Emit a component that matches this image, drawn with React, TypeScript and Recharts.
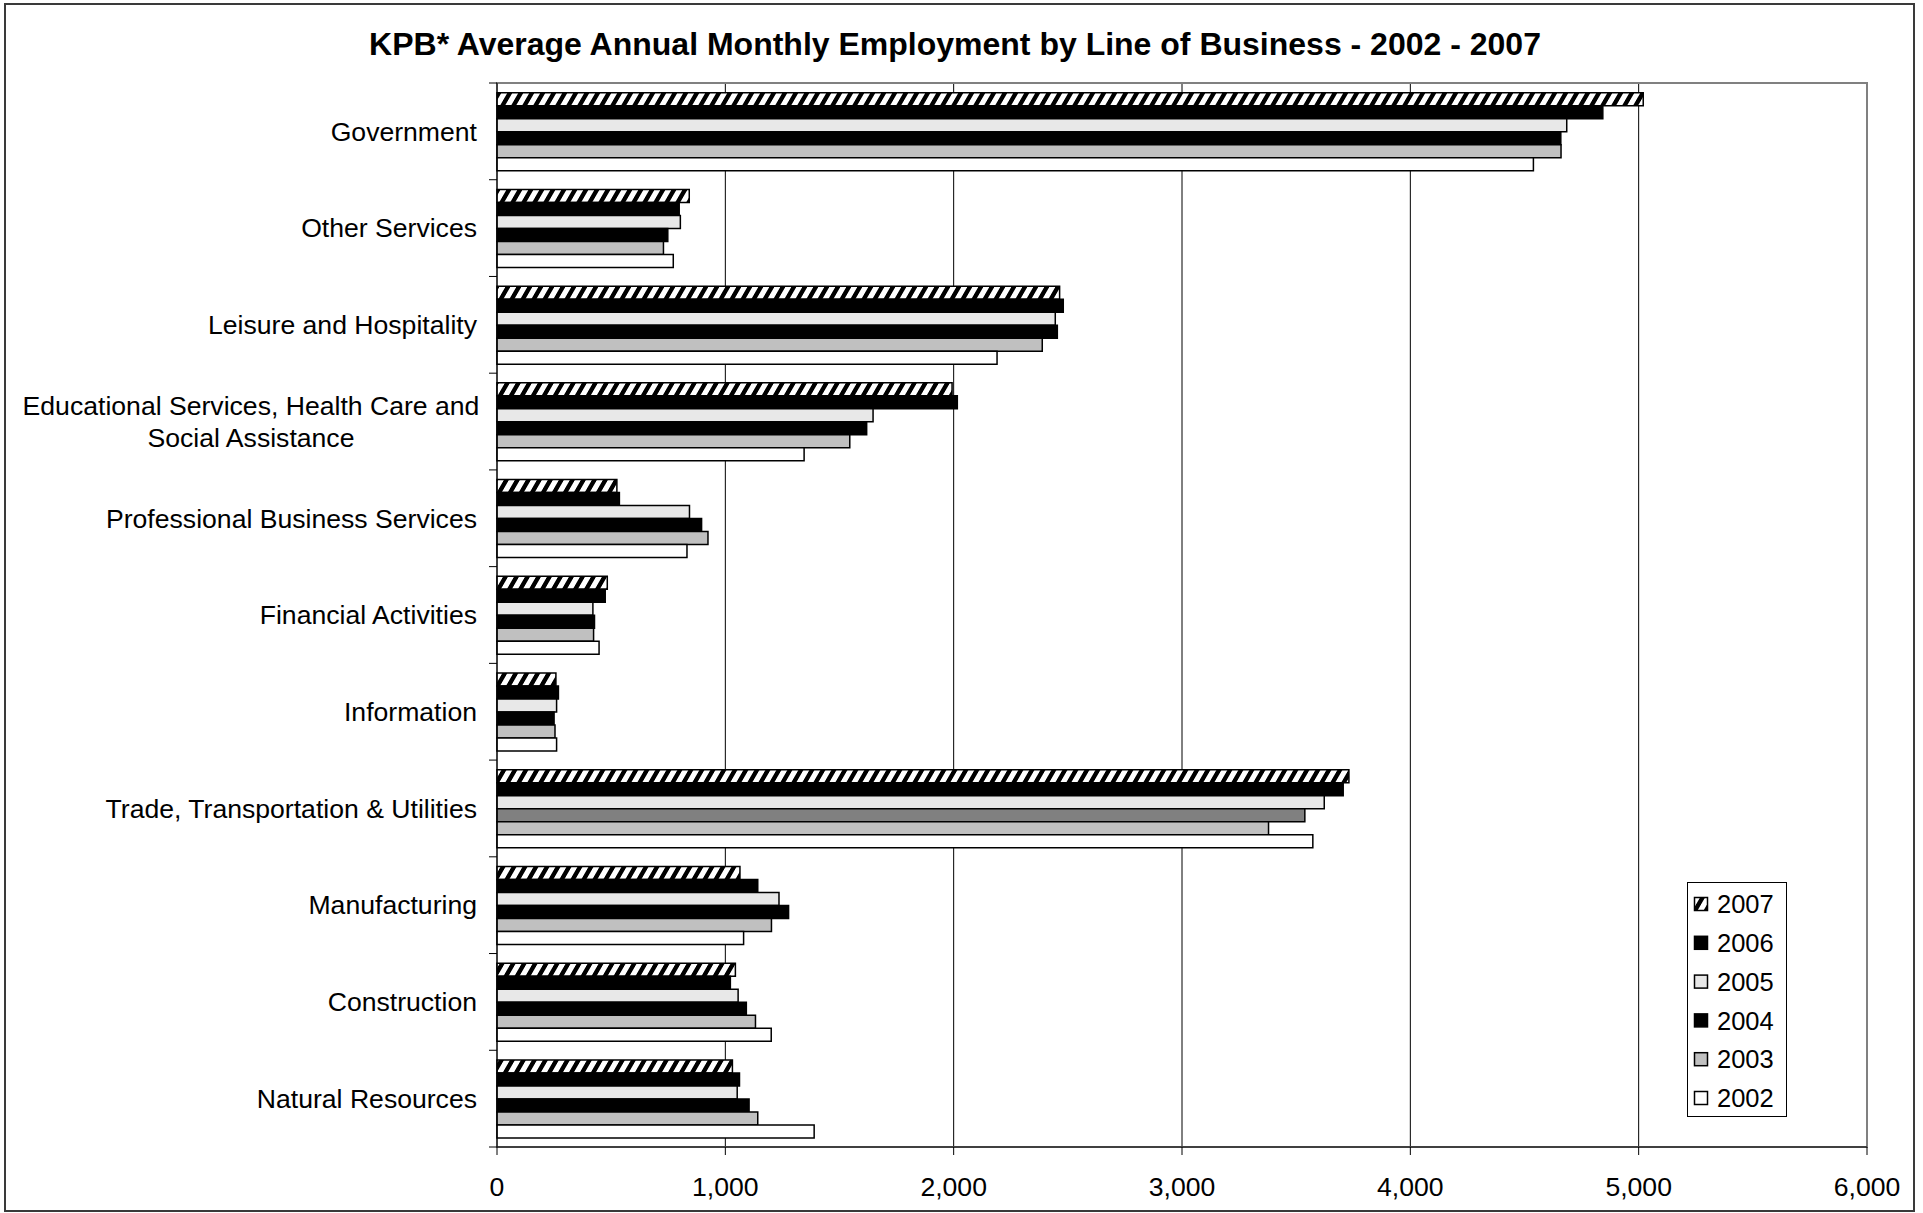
import React from 'react'
import { BarChart, Bar, XAxis, YAxis, CartesianGrid, Legend, Cell, ReferenceArea } from 'recharts'

// ────────────────────────────────────────────────────────────────────────────
// Data — KPB employment by line of business
// ────────────────────────────────────────────────────────────────────────────

const categories = [
  'Government',
  'Other Services',
  'Leisure and Hospitality',
  'Educational Services, Health Care and\nSocial Assistance',
  'Professional Business Services',
  'Financial Activities',
  'Information',
  'Trade, Transportation & Utilities',
  'Manufacturing',
  'Construction',
  'Natural Resources',
]

const years = ['2007', '2006', '2005', '2004', '2003', '2002']

const v2007 = [5020, 842, 2464, 1993, 525, 483, 258, 3731, 1064, 1044, 1031]
const v2006 = [4843, 798, 2480, 2016, 536, 474, 269, 3706, 1142, 1022, 1062]
const v2005 = [4685, 803, 2445, 1647, 843, 420, 261, 3623, 1235, 1056, 1052]
const v2004 = [4659, 748, 2454, 1619, 896, 427, 250, 3538, 1277, 1092, 1104]
const v2003 = [4660, 729, 2388, 1545, 924, 423, 254, 3379, 1202, 1132, 1142]
const v2002 = [4539, 772, 2190, 1345, 832, 447, 261, 3573, 1080, 1201, 1389]

const xTicks = [0, 1000, 2000, 3000, 4000, 5000, 6000]

const data = categories.map((name, i) => ({
  name,
  '2007': v2007[i],
  '2006': v2006[i],
  '2005': v2005[i],
  '2004': v2004[i],
  '2003': v2003[i],
  '2002': v2002[i],
}))

// ────────────────────────────────────────────────────────────────────────────
// Layout
// ────────────────────────────────────────────────────────────────────────────

const W = 1923
const H = 1213
const FONT = '"Liberation Sans", Arial, Helvetica, sans-serif'
const LABEL_SIZE = 26.6
const PLOT_TOP = 83
const PLOT_LEFT = 497
const PLOT_BOTTOM = 1147
const BAND = (PLOT_BOTTOM - PLOT_TOP) / categories.length

const fills: Record<string, string> = {
  '2007': 'url(#hatch)',
  '2006': '#000000',
  '2005': '#e8e8e8',
  '2004': '#000000',
  '2003': '#c0c0c0',
  '2002': '#ffffff',
}

function Hatch({ id }: { id: string }) {
  return (
    <pattern id={id} patternUnits="userSpaceOnUse" width={11} height={11} patternTransform="skewX(-30)">
      <rect width={11} height={11} fill="#fff" />
      <rect width={5} height={11} fill="#000" />
    </pattern>
  )
}

// category label, right aligned; two-line labels are centred as one block
function CategoryTick(props: any) {
  const { x, y, payload, index } = props
  const lines = String(payload.value).split('\n')
  const tickY = y - BAND / 2
  return (
    <g>
      <line x1={PLOT_LEFT - 8} x2={PLOT_LEFT} y1={tickY} y2={tickY} stroke="#000" />
      {index === categories.length - 1 && (
        <line x1={PLOT_LEFT - 8} x2={PLOT_LEFT} y1={y + BAND / 2} y2={y + BAND / 2} stroke="#000" />
      )}
      {lines.length === 1 ? (
        <text x={x} y={y} dy="0.35em" textAnchor="end" fontSize={LABEL_SIZE} fontFamily={FONT} fill="#000">
          {lines[0]}
        </text>
      ) : (
        lines.map((l, i) => (
          <text
            key={i}
            x={x - 226}
            y={y + (i - (lines.length - 1) / 2) * 32}
            dy="0.35em"
            textAnchor="middle"
            fontSize={LABEL_SIZE}
            fontFamily={FONT}
            fill="#000"
          >
            {l}
          </text>
        ))
      )}
    </g>
  )
}

function LegendBox({ payload }: any) {
  const items = [...(payload ?? [])].sort(
    (a: any, b: any) => years.indexOf(String(a.value)) - years.indexOf(String(b.value)),
  )
  return (
    <svg width={100} height={235} style={{ display: 'block' }}>
      <defs>
        <Hatch id="hatchLegend" />
      </defs>
      <rect x={0.5} y={0.5} width={99} height={234} fill="#fff" stroke="#000" />
      {items.map((p: any, i: number) => {
        const cy = 22 + i * 38.8
        const fill = p.value === '2007' ? 'url(#hatchLegend)' : fills[p.value] ?? p.color
        return (
          <g key={p.value}>
            <rect x={7.5} y={cy - 6.5} width={13} height={13} fill={fill} stroke="#000" strokeWidth={1.5} />
            <text x={30} y={cy} dy="0.36em" fontSize={25.5} fontFamily={FONT} fill="#000">
              {p.value}
            </text>
          </g>
        )
      })}
    </svg>
  )
}

export default function App() {
  return (
    <div style={{ position: 'absolute', left: 0, top: 0, width: W, height: H, background: '#fff', fontFamily: FONT }}>
      <BarChart
        width={W}
        height={H}
        data={data}
        layout="vertical"
        barCategoryGap="10%"
        barGap={0}
        margin={{ top: PLOT_TOP, right: 56, bottom: 26, left: 0 }}
      >
        <defs>
          <Hatch id="hatch" />
        </defs>
        <CartesianGrid horizontal={false} stroke="#000" strokeWidth={1} />
        <ReferenceArea x1={0} x2={6000} fill="none" stroke="#808080" strokeWidth={2} />
        <XAxis
          type="number"
          domain={[0, 6000]}
          ticks={xTicks}
          interval={0}
          height={40}
          tickSize={8}
          tickMargin={22}
          tickFormatter={(v: number) => v.toLocaleString('en-US')}
          tick={{ fontSize: LABEL_SIZE, fill: '#000', fontFamily: FONT }}
          stroke="#000"
        />
        <YAxis
          type="category"
          dataKey="name"
          width={PLOT_LEFT}
          interval={0}
          tickLine={false}
          tickSize={8}
          tickMargin={12}
          tick={<CategoryTick />}
          stroke="#000"
        />
        <Legend
          layout="horizontal"
          verticalAlign="middle"
          align="center"
          content={<LegendBox />}
          wrapperStyle={{ left: 1687, top: 882, width: 100, height: 235 }}
        />
        {years.map((yr) => (
          <Bar
            key={yr}
            dataKey={yr}
            name={yr}
            fill={fills[yr]}
            stroke="#000"
            strokeWidth={1.5}
            isAnimationActive={false}
          >
            {yr === '2004' &&
              data.map((d, i) => (
                <Cell key={i} fill={d.name.startsWith('Trade') ? '#808080' : '#000000'} />
              ))}
          </Bar>
        ))}
      </BarChart>
      <div
        style={{
          position: 'absolute',
          left: 0,
          top: 28,
          width: 1910,
          textAlign: 'center',
          fontSize: 32,
          lineHeight: '32px',
          fontWeight: 'bold',
          color: '#000',
        }}
      >
        KPB* Average Annual Monthly Employment by Line of Business - 2002 - 2007
      </div>
      <div
        style={{
          position: 'absolute',
          left: 4,
          top: 3,
          width: 1911,
          height: 1209,
          border: '2px solid #3a3a3a',
          boxSizing: 'border-box',
          pointerEvents: 'none',
        }}
      />
    </div>
  )
}
